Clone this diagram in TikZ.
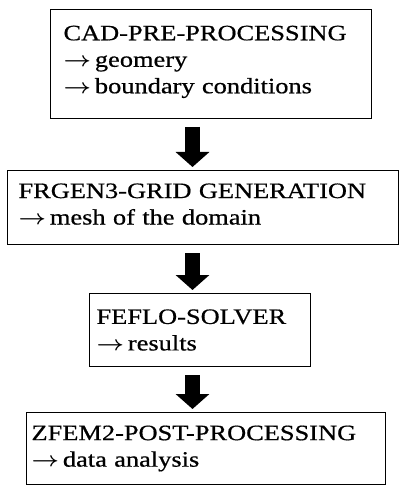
\documentclass[tikz,border=0pt]{standalone}
\usepackage{fontspec}
\usepackage{graphicx}
\setmainfont{Liberation Serif}[FakeStretch=1.2, FakeBold=0.6, WordSpace=3]
\usetikzlibrary{arrows.meta}
\newcommand{\rarr}{\scalebox{1.15}[1]{\boldmath$\rightarrow$}\hspace{4pt}}

\begin{document}
\begin{tikzpicture}[
    x=1pt, y=-1pt,
    font=\fontsize{22}{26.5}\selectfont,
    stage/.style={draw, line width=1pt, align=left, anchor=north west, inner ysep=0pt},
    flow/.style={line width=15pt, -{Triangle[length=15pt, width=33pt]}, shorten <=8pt, shorten >=3pt}
]
\useasboundingbox (0,0) rectangle (401,486);
\node[stage, text width=295pt, inner xsep=13pt, minimum height=109pt] (cad) at (50,9)
    {CAD-PRE-PROCESSING\\ \rarr geomery\\ \rarr boundary conditions\rule[-9pt]{0pt}{9pt}};
\node[stage, text width=369pt, inner xsep=11pt, minimum height=74pt] (grid) at (7,170)
    {FRGEN3-GRID GENERATION\\ \rarr mesh of the domain\rule[-7pt]{0pt}{7pt}};
\node[stage, text width=207pt, inner xsep=7pt, minimum height=73pt] (solver) at (89,293)
    {FEFLO-SOLVER\\ \rarr results};
\node[stage, text width=349pt, inner xsep=5pt, minimum height=72pt] (post) at (26,412)
    {ZFEM2-POST-PROCESSING\\ \rarr data analysis};
\coordinate (axis) at (192.5,0);
\draw[flow] (cad.south -| axis) -- (grid.north -| axis);
\draw[flow] (grid.south -| axis) -- (solver.north -| axis);
\draw[flow] (solver.south -| axis) -- (post.north -| axis);
\end{tikzpicture}
\end{document}
